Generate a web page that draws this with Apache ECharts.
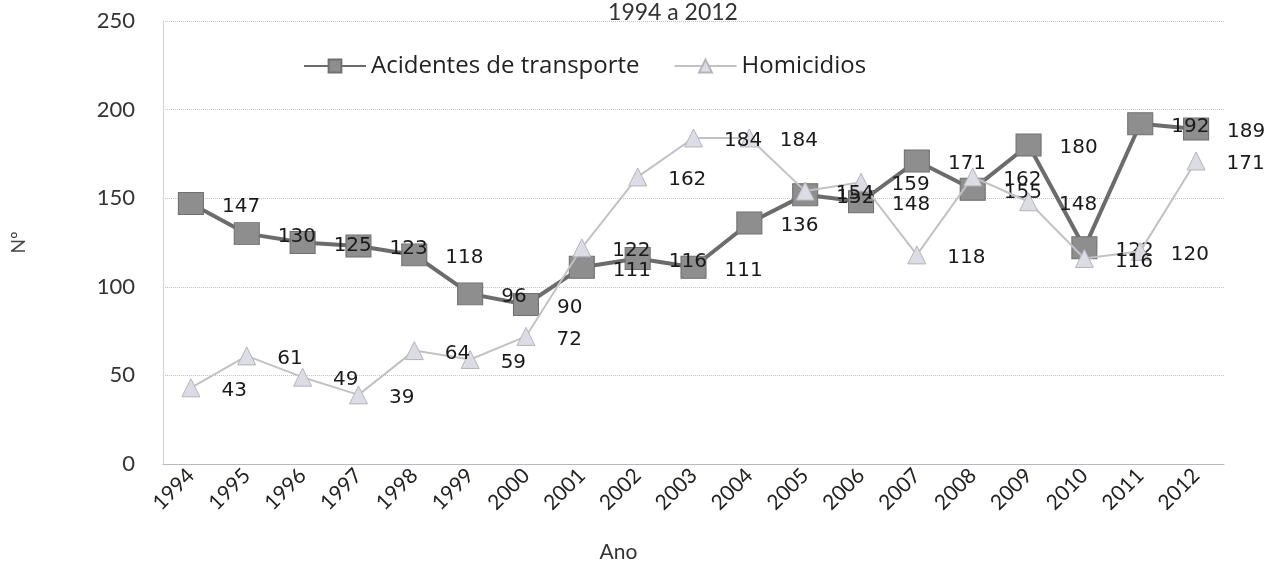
<!DOCTYPE html>
<html>
<head>
<meta charset="utf-8">
<script src="https://cdn.jsdelivr.net/npm/echarts@6/dist/echarts.min.js"></script>
<style>
  html, body { margin: 0; padding: 0; background: #fff; }
  #chart { width: 1276px; height: 563px; }
</style>
</head>
<body>
<div id="chart"></div>
<script>
// anos e valores
const anos = ['1994','1995','1996','1997','1998','1999','2000','2001','2002','2003',
              '2004','2005','2006','2007','2008','2009','2010','2011','2012'];
const acidentes = [147,130,125,123,118,96,90,111,116,111,136,152,148,171,155,180,122,192,189];
const homicidios = [43,61,49,39,64,59,72,122,162,184,184,154,159,118,162,148,116,120,171];

const chart = echarts.init(document.getElementById('chart'));

const labelStyle = {
  show: true,
  position: 'right',
  fontFamily: 'DejaVu Sans',
  fontSize: 20,
  color: '#1a1a1a',
  offset: [0, 3]
};

const option = {
  animation: false,
  title: {
    text: '1994 a 2012',
    left: 668,
    top: -4,
    textAlign: 'center',
    textStyle: { fontFamily: 'Lato', fontSize: 23, fontWeight: 'normal', color: '#333' }
  },
  legend: {
    left: 298,
    top: 49,
    itemWidth: 62,
    itemHeight: 16,
    itemGap: 34,
    textStyle: { fontFamily: 'Open Sans', fontSize: 24, color: '#222' },
    data: ['Acidentes de transporte', 'Homicidios']
  },
  grid: { left: 163, right: 52, top: 21, bottom: 99, outerBoundsMode: 'none' },
  xAxis: {
    type: 'category',
    data: anos,
    name: 'Ano',
    nameLocation: 'middle',
    nameGap: 78,
    nameTextStyle: { fontFamily: 'Lato', fontSize: 21, color: '#333', padding: [0, 150, 0, 0] },
    axisLine: { lineStyle: { color: '#b8b8c4' } },
    axisTick: { lineStyle: { color: '#c8c8d0' } },
    axisLabel: { rotate: 45, margin: 8, fontFamily: 'Lato', fontSize: 21, color: '#222' }
  },
  yAxis: {
    type: 'value',
    min: 0,
    max: 250,
    interval: 50,
    name: 'Nº',
    nameLocation: 'middle',
    nameGap: 135,
    nameTextStyle: { fontFamily: 'Lato', fontSize: 19, color: '#444' },
    axisLine: { show: true, lineStyle: { color: '#d0d0d8' } },
    axisLabel: { margin: 28, fontFamily: 'Lato', fontSize: 22, color: '#333' },
    splitLine: { lineStyle: { color: '#c4c4cc', type: 'dotted' } }
  },
  series: [
    {
      name: 'Acidentes de transporte',
      type: 'line',
      data: acidentes,
      symbol: 'rect',
      symbolSize: [25, 22],
      lineStyle: { color: '#6c6c6c', width: 4 },
      itemStyle: { color: '#8e8e8e', borderColor: '#707070', borderWidth: 1 },
      label: Object.assign({}, labelStyle, { distance: 18 }),
      z: 2
    },
    {
      name: 'Homicidios',
      type: 'line',
      data: homicidios,
      symbol: 'triangle',
      symbolSize: 18,
      lineStyle: { color: '#c2c2c6', width: 2 },
      itemStyle: { color: '#dcdce4', borderColor: '#b4b4bc', borderWidth: 1 },
      label: Object.assign({}, labelStyle, { distance: 21 }),
      z: 3
    }
  ]
};

chart.setOption(option);
</script>
</body>
</html>
